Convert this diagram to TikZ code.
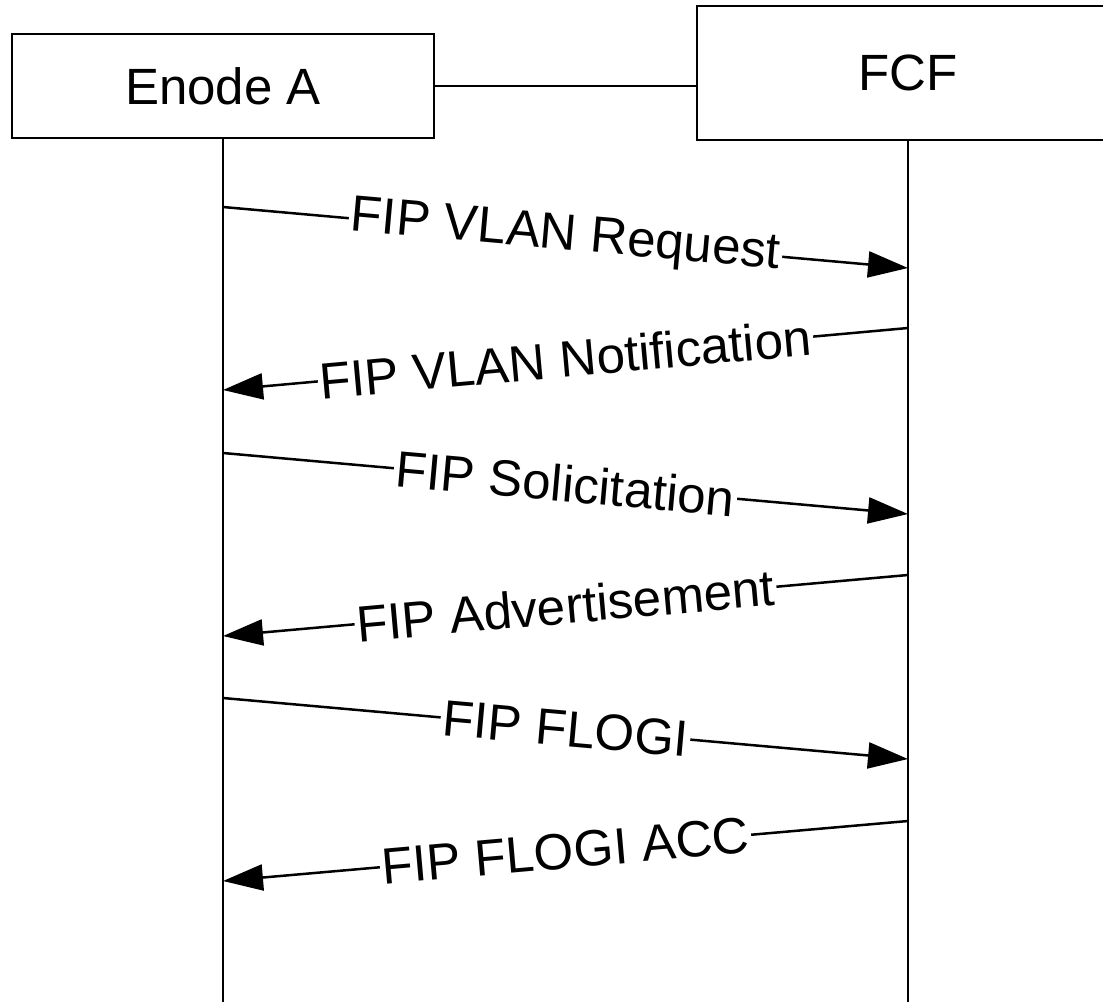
\documentclass[tikz,border=0pt]{standalone}
\usepackage{fontspec}
\setmainfont{Liberation Sans}
\usetikzlibrary{arrows.meta}
\begin{document}
\begin{tikzpicture}[x=1pt,y=-1pt,
  box/.style={draw,line width=2.5pt,minimum width=422pt,inner sep=0pt,font=\fontsize{51}{60}\selectfont},
  life/.style={line width=2.5pt},
  msg/.style={line width=2.5pt,-{Triangle[length=40pt,width=26pt]}},
  lbl/.style={sloped,fill=white,inner sep=2pt,font=\fontsize{51}{60}\selectfont}]
\useasboundingbox (0,0) rectangle (1103,1002);
\clip (0,0) rectangle (1103,1002);
\fill[white] (0,0) rectangle (1103,1002);
\node[box,minimum height=104pt] (A) at (223,86) {Enode A};
\node[box,minimum height=134pt] (F) at (908,73) {FCF};
\draw[life] (A.east) -- (A.east -| F.west);
\coordinate (Aend) at (223,1002);
\coordinate (Fend) at (908,1002);
\draw[life] (A.south) -- (Aend);
\draw[life] (F.south) -- (Fend);
\coordinate (a1) at (223,207); \coordinate (f1) at (908,268);
\coordinate (f2) at (908,328); \coordinate (a2) at (223,390);
\coordinate (a3) at (223,453); \coordinate (f3) at (908,514);
\coordinate (f4) at (908,575); \coordinate (a4) at (223,636);
\coordinate (a5) at (223,698); \coordinate (f5) at (908,759);
\coordinate (f6) at (908,821); \coordinate (a6) at (223,881);
\draw[msg] (a1) -- node[lbl] {FIP VLAN Request} (f1);
\draw[msg] (f2) -- node[lbl] {FIP VLAN Notification} (a2);
\draw[msg] (a3) -- node[lbl] {FIP Solicitation} (f3);
\draw[msg] (f4) -- node[lbl] {FIP Advertisement} (a4);
\draw[msg] (a5) -- node[lbl] {FIP FLOGI} (f5);
\draw[msg] (f6) -- node[lbl] {FIP FLOGI ACC} (a6);
\end{tikzpicture}
\end{document}
